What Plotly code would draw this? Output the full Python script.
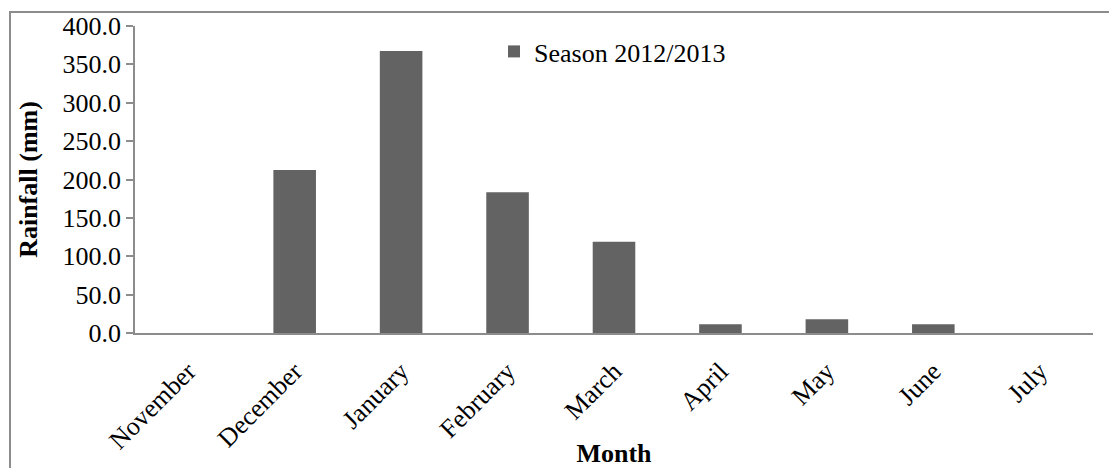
import plotly.graph_objects as go

months = ["November", "December", "January", "February", "March", "April", "May", "June", "July"]
rainfall = [0.0, 212.5, 367.5, 183.5, 119.0, 11.5, 18.0, 11.5, 0.0]
y_ticks = [0, 50, 100, 150, 200, 250, 300, 350, 400]
series_name = "Season 2012/2013"

L, R, T, B = 135, 16, 26, 135
W, H = 1109, 468
pw, ph = W - L - R, H - T - B

fig = go.Figure()
fig.add_trace(go.Bar(x=months, y=rainfall, name=series_name, marker=dict(color="#636363", line=dict(width=0))))

fig.update_layout(
    width=W, height=H,
    margin=dict(l=L, r=R, t=T, b=B, autoexpand=False),
    paper_bgcolor="white", plot_bgcolor="white",
    bargap=0.6,
    font=dict(family="Liberation Serif, Times New Roman, serif", size=26, color="black"),
    showlegend=True,
    legend=dict(x=(494 - L) / pw, y=1 - (28 - T) / ph, xanchor="left", yanchor="top",
                bgcolor="rgba(0,0,0,0)", font=dict(size=26), itemwidth=30),
    xaxis=dict(
        showline=True, linecolor="#8c8c8c", linewidth=1.5,
        ticks="", tickangle=-45, showgrid=False, automargin=False,
        ticklabelstandoff=11,
        title=dict(text="<b>Month</b>", standoff=4, font=dict(size=26)),
        tickfont=dict(size=26),
    ),
    yaxis=dict(
        range=[0, 400], tickvals=y_ticks, ticktext=[f"{v:.1f}" for v in y_ticks],
        showline=True, linecolor="#8c8c8c", linewidth=1.5,
        ticks="outside", ticklen=7, tickcolor="#8c8c8c", tickwidth=1.5,
        showgrid=False, zeroline=False, automargin=False,
        title=dict(text="<b>Rainfall (mm)</b>", standoff=17, font=dict(size=26)),
        tickfont=dict(size=26),
    ),
)

fig.add_shape(type="rect", xref="paper", yref="paper",
              x0=(10 - L) / pw, x1=(1130 - L) / pw,
              y0=(333 - 490) / ph, y1=1 + (T - 12) / ph,
              line=dict(color="#8c8c8c", width=2), fillcolor="rgba(0,0,0,0)", layer="below")

fig.write_html("out.html")
